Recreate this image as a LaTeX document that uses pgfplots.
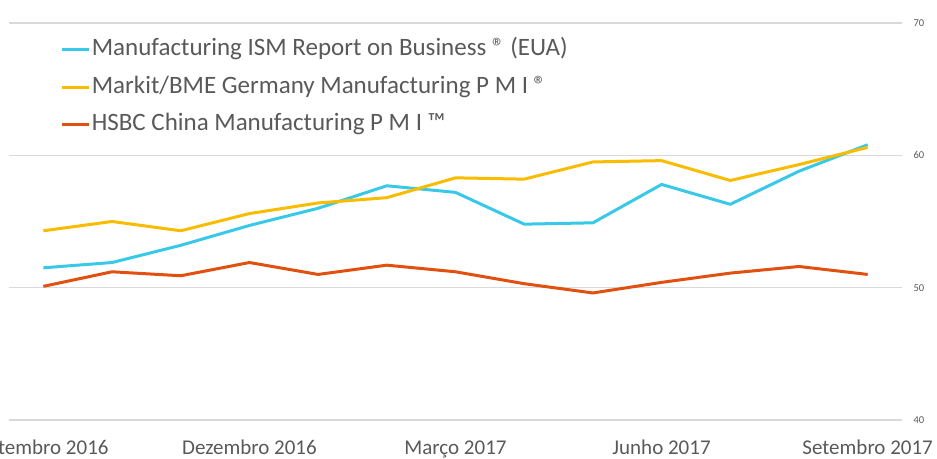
\documentclass[border=0pt]{standalone}
\usepackage{pgfplots}
\pgfplotsset{compat=1.18}
\usepackage{fontspec}
\setmainfont{Carlito}
\definecolor{cISM}{HTML}{38C8E8}
\definecolor{cGER}{HTML}{F9BC00}
\definecolor{cCHN}{HTML}{E2500F}
\definecolor{txt}{HTML}{595959}
\definecolor{gridc}{HTML}{D9D9D9}
\begin{document}
\begin{tikzpicture}
\begin{axis}[
  scale only axis,
  width=893pt, height=397pt,
  xmin=-0.5, xmax=12.5,
  ymin=40, ymax=70,
  axis line style={draw=none},
  major tick length=0pt,
  ytick={40,50,60,70},
  yticklabel pos=right,
  ymajorgrids,
  major grid style={gridc, line width=1.2pt},
  yticklabel style={font=\fontsize{10.5}{12}\selectfont, text=txt, xshift=8pt},
  /pgf/number format/assume math mode=true,
  xtick={0,3,6,9,12},
  xticklabels={Setembro 2016, Dezembro 2016, Março 2017, Junho 2017, Setembro 2017},
  xticklabel style={font=\fontsize{21}{24}\selectfont, text=txt, anchor=base, yshift=-34pt},
  legend style={at={(rel axis cs:0.0575,0.9625)}, anchor=north west, draw=none, fill=none,
    font=\fontsize{25}{28}\selectfont, text=txt, row sep=13.2pt,
    inner sep=0pt, outer sep=0pt,
    nodes={inner xsep=1.5pt, inner ysep=0pt, text height=18pt, text depth=6pt}},
  legend cell align=left,
  legend image code/.code={\draw[#1, line width=3pt] (0pt,0pt) -- (27pt,0pt);},
  every axis plot/.append style={line width=3pt, line join=round},
]
\addplot[cISM, mark=none] coordinates {
(0,51.5) (1,51.9) (2,53.2) (3,54.7) (4,56.0) (5,57.7) (6,57.2) (7,54.8) (8,54.9) (9,57.8) (10,56.3) (11,58.8) (12,60.8)};
\addlegendentry{Manufacturing ISM Report on Business ® (EUA)}
\addplot[cGER, mark=none] coordinates {
(0,54.3) (1,55.0) (2,54.3) (3,55.6) (4,56.4) (5,56.8) (6,58.3) (7,58.2) (8,59.5) (9,59.6) (10,58.1) (11,59.3) (12,60.6)};
\addlegendentry{Markit/BME Germany Manufacturing P M I ®}
\addplot[cCHN, mark=none] coordinates {
(0,50.1) (1,51.2) (2,50.9) (3,51.9) (4,51.0) (5,51.7) (6,51.2) (7,50.3) (8,49.6) (9,50.4) (10,51.1) (11,51.6) (12,51.0)};
\addlegendentry{HSBC China Manufacturing P M I ™}
\end{axis}
\pgfresetboundingbox
\path[use as bounding box] (-9pt,-38pt) rectangle (928pt,420pt);
\end{tikzpicture}
\end{document}
